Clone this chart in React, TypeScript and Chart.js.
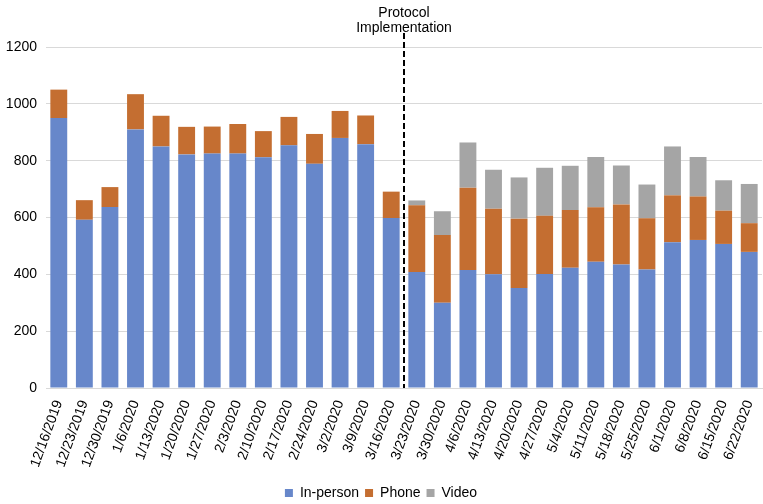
import React, { useEffect, useRef } from "react";
import { Chart, registerables } from "chart.js";

Chart.register(...registerables);

const categories = [
  "12/16/2019", "12/23/2019", "12/30/2019", "1/6/2020", "1/13/2020", "1/20/2020", "1/27/2020",
  "2/3/2020", "2/10/2020", "2/17/2020", "2/24/2020", "3/2/2020", "3/9/2020", "3/16/2020",
  "3/23/2020", "3/30/2020", "4/6/2020", "4/13/2020", "4/20/2020", "4/27/2020", "5/4/2020",
  "5/11/2020", "5/18/2020", "5/25/2020", "6/1/2020", "6/8/2020", "6/15/2020", "6/22/2020",
];

const inPerson = [
  950, 592, 637, 910, 850, 822, 825, 825, 812, 854, 789, 880, 858, 598,
  408, 300, 415, 400, 352, 401, 423, 444, 435, 417, 513, 521, 507, 479,
];

const phone = [
  100, 69, 70, 124, 108, 97, 95, 104, 92, 100, 105, 95, 101, 93,
  235, 238, 290, 231, 244, 205, 203, 192, 211, 180, 165, 153, 117, 101,
];

const video = [
  0, 0, 0, 0, 0, 0, 0, 0, 0, 0, 0, 0, 0, 0,
  17, 84, 159, 137, 145, 169, 156, 177, 137, 119, 172, 139, 107, 138,
];

const yTicks = [0, 200, 400, 600, 800, 1000, 1200];
const protocolAfterIndex = 13;
const protocolLabel = ["Protocol", "Implementation"];

const FONT = "'Liberation Sans', Arial, sans-serif";

const protocolPlugin = {
  id: "protocolLine",
  afterDatasetsDraw(chart: any) {
    const { ctx, scales, chartArea } = chart;
    const x =
      (scales.x.getPixelForValue(protocolAfterIndex) +
        scales.x.getPixelForValue(protocolAfterIndex + 1)) / 2;
    ctx.save();
    ctx.strokeStyle = "#000";
    ctx.lineWidth = 2;
    ctx.setLineDash([6, 3]);
    ctx.beginPath();
    ctx.moveTo(x, chartArea.top - 14);
    ctx.lineTo(x, chartArea.bottom);
    ctx.stroke();
    ctx.setLineDash([]);
    ctx.fillStyle = "#000";
    ctx.font = `14px ${FONT}`;
    ctx.textAlign = "center";
    ctx.textBaseline = "middle";
    ctx.fillText(protocolLabel[0], x, 13);
    ctx.fillText(protocolLabel[1], x, 28);
    ctx.restore();
  },
};

export default function App() {
  const ref = useRef<HTMLCanvasElement>(null);

  useEffect(() => {
    if (!ref.current) return;
    const chart = new Chart(ref.current, {
      type: "bar",
      data: {
        labels: categories,
        datasets: [
          { label: "In-person", data: inPerson, backgroundColor: "#6787CA" },
          { label: "Phone", data: phone, backgroundColor: "#C46E31" },
          { label: "Video", data: video, backgroundColor: "#A5A5A5" },
        ],
      },
      options: {
        animation: false,
        responsive: false,
        maintainAspectRatio: false,
        layout: { padding: { top: 47, right: 1, left: 0, bottom: 0 } },
        datasets: {
          bar: { categoryPercentage: 1, barPercentage: 0.66 },
        } as any,
        plugins: {
          legend: {
            position: "bottom",
            labels: {
              boxWidth: 8,
              boxHeight: 8,
              color: "#000",
              font: { family: FONT, size: 14 },
              padding: 6,
            },
          },
          tooltip: { enabled: false },
        },
        scales: {
          x: {
            stacked: true,
            grid: { display: false, drawTicks: false },
            border: { color: "#D9D9D9" },
            ticks: {
              color: "#000",
              font: { family: FONT, size: 14 },
              maxRotation: 70,
              minRotation: 70,
              autoSkip: false,
              padding: 10,
            },
            afterFit(axis: any) {
              axis.height = 92;
              axis.paddingLeft = 0;
              axis.paddingRight = 0;
            },
          },
          y: {
            stacked: true,
            min: 0,
            max: 1200,
            afterBuildTicks(axis: any) {
              axis.ticks = yTicks.map((v) => ({ value: v }));
            },
            grid: { color: "#D9D9D9", drawTicks: false },
            border: { display: false },
            ticks: {
              color: "#000",
              font: { family: FONT, size: 14 },
              padding: 9,
              callback: (v: any) => String(v),
            },
            afterFit(axis: any) {
              axis.width = 46;
              axis.paddingTop = 0;
              axis.paddingBottom = 0;
            },
          },
        },
      },
      plugins: [protocolPlugin],
    });
    return () => chart.destroy();
  }, []);

  return (
    <div style={{ position: "fixed", left: 0, top: 0, width: 763, height: 504, overflow: "hidden", background: "#fff" }}>
      <canvas ref={ref} width={763} height={510} style={{ width: 763, height: 510, display: "block" }} />
    </div>
  );
}
